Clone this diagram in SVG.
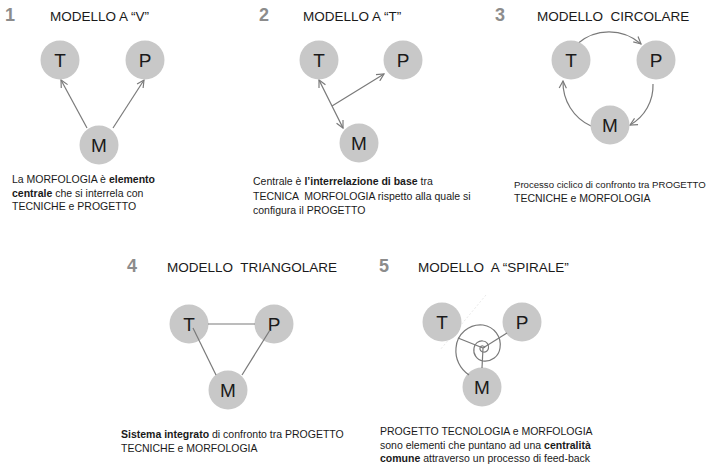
<svg xmlns="http://www.w3.org/2000/svg" width="718" height="467" viewBox="0 0 718 467">
<defs>
<style>
.num{font-family:"Liberation Sans",Arial,sans-serif;font-size:18px;font-weight:bold;fill:#8c8c8c}
.title{font-family:"Liberation Sans",Arial,sans-serif;font-size:13.5px;fill:#1a1a1a;white-space:pre}
.node circle{fill:#c8c8c8}
.node text{font-family:"Liberation Sans",Arial,sans-serif;font-size:19px;fill:#1a1a1a;text-anchor:middle}
.desc{font-family:"Liberation Sans",Arial,sans-serif;font-size:10.5px;fill:#1a1a1a;white-space:pre}
.b{font-weight:bold}
.ln{stroke:#7a7a7a;stroke-width:1.2;fill:none}
.arr{marker-end:url(#ah)}
</style>
<marker id="ah" viewBox="0 0 10 10" refX="9" refY="5" markerWidth="9" markerHeight="9" markerUnits="userSpaceOnUse" orient="auto-start-reverse">
<path d="M1,1 L9,5 L1,9" fill="none" stroke="#7a7a7a" stroke-width="1.3"/>
</marker>
</defs>
<rect width="718" height="467" fill="#ffffff"/>

<!-- Panel titles -->
<text class="num" x="5" y="21">1</text>
<text class="title" x="50" y="21" xml:space="preserve">MODELLO A “V”</text>
<text class="num" x="259" y="21">2</text>
<text class="title" x="303" y="21" xml:space="preserve">MODELLO A “T”</text>
<text class="num" x="495" y="21">3</text>
<text class="title" x="537" y="21" xml:space="preserve">MODELLO  CIRCOLARE</text>
<text class="num" x="127" y="272">4</text>
<text class="title" x="167" y="272" xml:space="preserve">MODELLO  TRIANGOLARE</text>
<text class="num" x="379" y="272">5</text>
<text class="title" x="418" y="272" xml:space="preserve">MODELLO  A “SPIRALE”</text>

<!-- Connectors (behind nodes) -->
<g id="connectors">
<line class="ln arr" x1="87" y1="128" x2="61" y2="80"/>
<line class="ln arr" x1="113" y1="128" x2="144" y2="80"/>
<line class="ln" x1="319" y1="80" x2="343" y2="128" style="marker-start:url(#ah);marker-end:url(#ah)"/>
<line class="ln arr" x1="332" y1="106" x2="384" y2="74"/>
<path class="ln arr" d="M577,44 A48,48 0 0 1 641,44"/>
<path class="ln arr" d="M653,84 A45,45 0 0 1 630,125"/>
<path class="ln arr" d="M591,126 A48,48 0 0 1 563,81"/>
<line x1="486" y1="295" x2="440" y2="350" stroke="#e2e2e2" stroke-width="0.8" stroke-dasharray="2 2"/>
</g>

<g id="n1-T" class="node"><circle cx="60" cy="60" r="19.5"/><text x="60" y="67">T</text></g>
<g id="n1-P" class="node"><circle cx="145" cy="60" r="19.5"/><text x="145" y="67">P</text></g>
<g id="n1-M" class="node"><circle cx="99" cy="145" r="19.5"/><text x="99" y="152">M</text></g>

<g id="n2-T" class="node"><circle cx="319" cy="60" r="19.5"/><text x="319" y="67">T</text></g>
<g id="n2-P" class="node"><circle cx="403" cy="60" r="19.5"/><text x="403" y="67">P</text></g>
<g id="n2-M" class="node"><circle cx="359" cy="143" r="19.5"/><text x="359" y="150">M</text></g>

<g id="n3-T" class="node"><circle cx="571" cy="60" r="19.5"/><text x="571" y="67">T</text></g>
<g id="n3-P" class="node"><circle cx="656" cy="60" r="19.5"/><text x="656" y="67">P</text></g>
<g id="n3-M" class="node"><circle cx="610" cy="125" r="19.5"/><text x="610" y="132">M</text></g>

<g id="n4-T" class="node"><circle cx="189" cy="324" r="19.5"/><text x="189" y="331">T</text></g>
<g id="n4-P" class="node"><circle cx="274" cy="324" r="19.5"/><text x="274" y="331">P</text></g>
<g id="n4-M" class="node"><circle cx="228" cy="390" r="19.5"/><text x="228" y="397">M</text></g>

<g id="n5-T" class="node"><circle cx="442" cy="322" r="19.5"/><text x="442" y="329">T</text></g>
<g id="n5-P" class="node"><circle cx="522" cy="322" r="19.5"/><text x="522" y="329">P</text></g>
<g id="n5-M" class="node"><circle cx="482" cy="387" r="19.5"/><text x="482" y="394">M</text></g>

<!-- Connectors drawn over nodes -->
<g id="connectors-over">
<line class="ln" x1="208" y1="324" x2="255" y2="324"/>
<line class="ln" x1="193" y1="328" x2="216" y2="375"/>
<line class="ln" x1="270" y1="330" x2="242" y2="375"/>
<line class="ln" x1="458" y1="338" x2="483" y2="348"/>
<line class="ln" x1="507" y1="333" x2="483" y2="348"/>
<line class="ln" x1="482" y1="368" x2="483" y2="348"/>
<path class="ln" d="M469,375 A29,29 0 0 1 456,348 A24.5,24.5 0 0 1 483,325 A20,20 0 0 1 500,348 A15,15 0 0 1 483,361 A11,11 0 0 1 474,348 A8,8 0 0 1 483,341 A6,6 0 0 1 488.5,348 A4.5,4.5 0 0 1 483,352 A3.5,3.5 0 0 1 480,348 A2.5,2.5 0 0 1 483,346 A1.5,1.5 0 0 1 484.5,348"/>
</g>

<!-- Descriptions -->
<text class="desc" x="12" y="183">La MORFOLOGIA è <tspan class="b">elemento</tspan></text>
<text class="desc" x="12" y="196.5"><tspan class="b">centrale</tspan> che si interrela con</text>
<text class="desc" x="12" y="210">TECNICHE e PROGETTO</text>

<text class="desc" x="253" y="185">Centrale è <tspan class="b">l’interrelazione di base</tspan> tra</text>
<text class="desc" x="253" y="199.5" xml:space="preserve">TECNICA  MORFOLOGIA rispetto alla quale si</text>
<text class="desc" x="253" y="214">configura il PROGETTO</text>

<text class="desc" x="514" y="188" style="font-size:9.6px">Processo ciclico di confronto tra PROGETTO</text>
<text class="desc" x="514" y="201.5">TECNICHE e MORFOLOGIA</text>

<text class="desc" x="121" y="438"><tspan class="b">Sistema integrato</tspan> di confronto tra PROGETTO</text>
<text class="desc" x="121" y="452">TECNICHE e MORFOLOGIA</text>

<text class="desc" x="380" y="435">PROGETTO TECNOLOGIA e MORFOLOGIA</text>
<text class="desc" x="380" y="448.5">sono elementi che puntano ad una <tspan class="b">centralità</tspan></text>
<text class="desc" x="380" y="462"><tspan class="b">comune</tspan> attraverso un processo di feed-back</text>
</svg>
